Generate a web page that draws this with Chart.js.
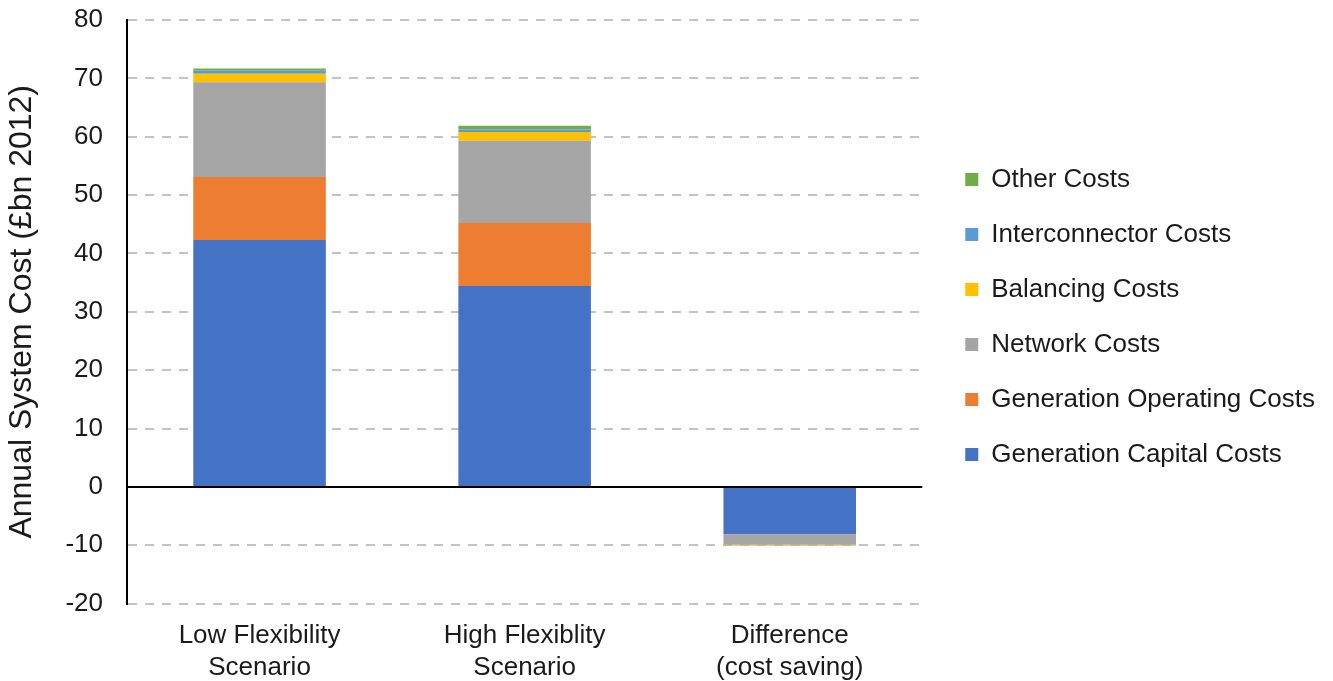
<!DOCTYPE html>
<html>
<head>
<meta charset="utf-8">
<style>
  html, body { margin: 0; padding: 0; background: #fff; }
  #wrap { width: 1333px; height: 681px; }
</style>
<script src="https://cdn.jsdelivr.net/npm/chart.js@4/dist/chart.umd.min.js"></script>
</head>
<body>
<div id="wrap"><canvas id="c" width="1333" height="681"></canvas></div>
<script>
const categories = [["Low Flexibility", "Scenario"], ["High Flexiblity", "Scenario"], ["Difference", "(cost saving)"]];
const genCapital = [42.3, 34.4, -8.1];
const genOperating = [10.8, 10.8, -0.05];
const network = [16.25, 14.1, -1.75];
const balancing = [1.45, 1.5, -0.15];
const interconnector = [0.5, 0.45, -0.03];
const other = [0.4, 0.65, 0];
const yMin = -20, yMax = 80, yStep = 10;

const FONT = "'Liberation Sans', Arial, sans-serif";
const TXT = '#1a1a1a';

const ds = (label, data, color) => ({ label, data, backgroundColor: color, borderWidth: 0, categoryPercentage: 1.0, barPercentage: 0.5 });

const legendShift = {
  id: 'legendShift',
  afterLayout(chart) {
    const lg = chart.legend;
    if (lg) { lg.left += 14; lg.right += 14; lg.top -= 29; lg.bottom -= 29; }
  }
};

new Chart(document.getElementById('c'), {
  type: 'bar',
  data: {
    labels: categories,
    datasets: [
      ds('Generation Capital Costs', genCapital, '#4472C4'),
      ds('Generation Operating Costs', genOperating, '#ED7D31'),
      ds('Network Costs', network, '#A5A5A5'),
      ds('Balancing Costs', balancing, '#FFC000'),
      ds('Interconnector Costs', interconnector, '#5B9BD5'),
      ds('Other Costs', other, '#70AD47')
    ]
  },
  plugins: [legendShift],
  options: {
    responsive: false,
    animation: false,
    devicePixelRatio: 1,
    layout: { padding: { left: 0, right: 22, top: 0, bottom: -11 } },
    plugins: {
      tooltip: { enabled: false },
      legend: {
        position: 'right',
        reverse: true,
        maxWidth: 420,
        labels: {
          boxWidth: 13, boxHeight: 13, padding: 29,
          color: TXT,
          font: { family: FONT, size: 26 }
        }
      }
    },
    scales: {
      x: {
        stacked: true,
        grid: { display: false },
        border: { display: false },
        ticks: { color: TXT, font: { family: FONT, size: 26, lineHeight: 1.2 }, padding: 9, maxRotation: 0 }
      },
      y: {
        stacked: true,
        min: yMin, max: yMax,
        afterFit: (s) => { s.width = 127; s.paddingTop = 20; s.paddingBottom = 0; },
        ticks: { stepSize: yStep, color: TXT, font: { family: FONT, size: 26 }, padding: 24 },
        grid: {
          drawTicks: false,
          color: (ctx) => ctx.tick && ctx.tick.value === 0 ? '#000000' : '#c3c3c3',
          lineWidth: 2
        },
        border: {
          display: true, color: '#000000', width: 2,
          dash: (ctx) => ctx.tick && ctx.tick.value === 0 ? [] : [9, 8]
        },
        title: { display: true, text: 'Annual System Cost (£bn 2012)', color: TXT, font: { family: FONT, size: 32 }, padding: { top: 3, bottom: 0 } }
      }
    }
  }
});
</script>
</body>
</html>
